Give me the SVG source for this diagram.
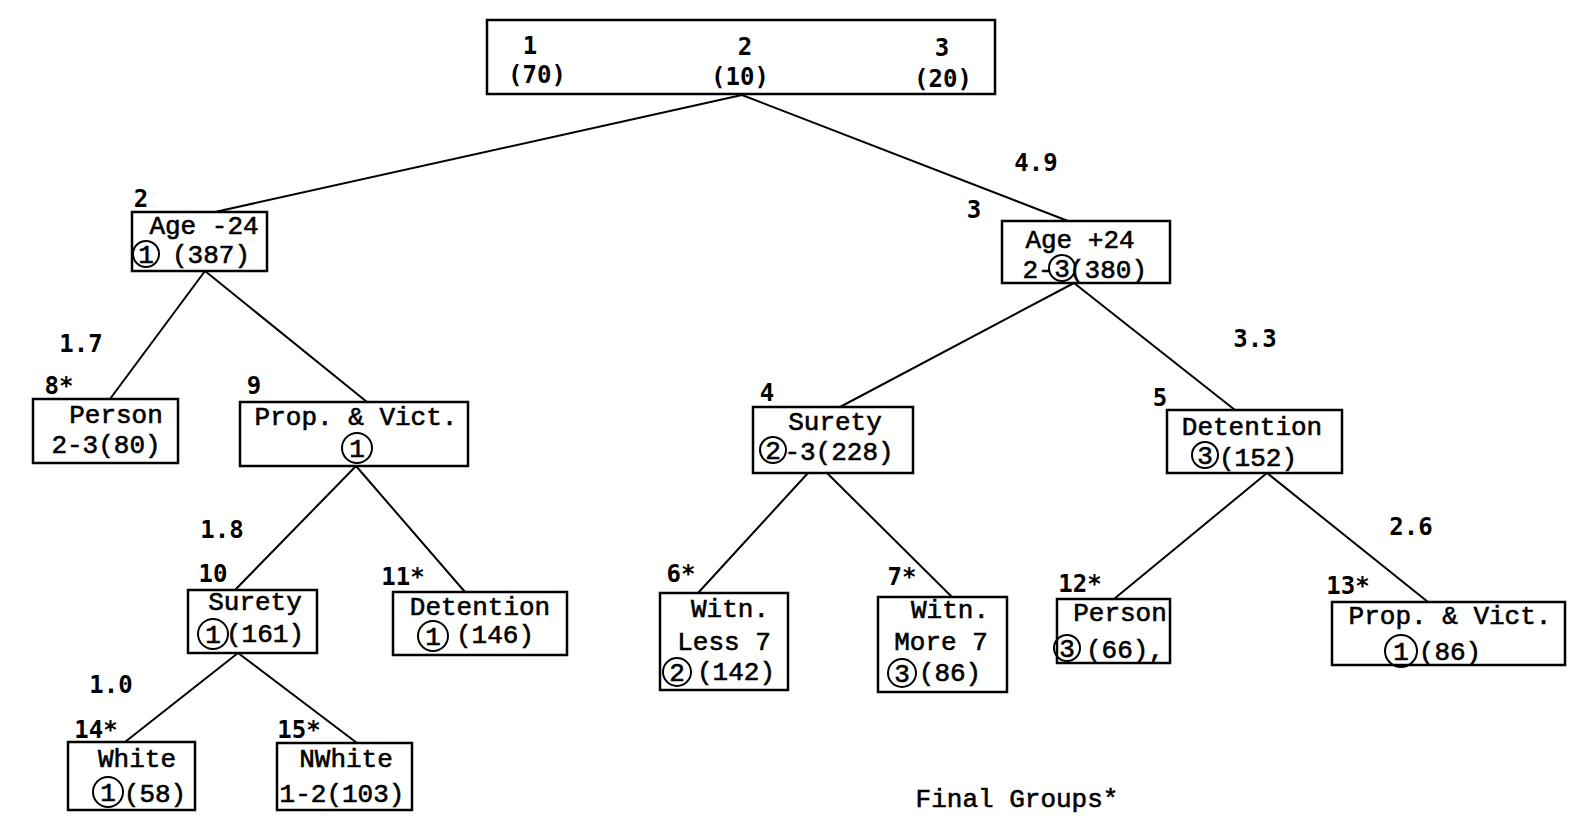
<svg xmlns="http://www.w3.org/2000/svg" width="1578" height="823" viewBox="0 0 1578 823">
<style>
.bg{fill:#ffffff}
.box{fill:none;stroke:#000;stroke-width:2.5}
.edge{stroke:#000;stroke-width:2;fill:none}
.t{font-family:"Liberation Mono","DejaVu Sans Mono",monospace;font-size:26px;font-weight:normal;fill:#000;stroke:#000;stroke-width:0.6;text-anchor:middle}
.n{font-family:"DejaVu Sans Mono","Liberation Mono",monospace;font-size:24px;font-weight:bold;fill:#000;text-anchor:middle}
.c{fill:none;stroke:#000;stroke-width:2}
</style>
<rect class="bg" x="0" y="0" width="1578" height="823"/>
<g id="connectors">
<line class="edge" x1="742" y1="95" x2="215" y2="212"/>
<line class="edge" x1="742" y1="95" x2="1068" y2="221"/>
<line class="edge" x1="205" y1="271" x2="110" y2="399"/>
<line class="edge" x1="205" y1="271" x2="367" y2="402"/>
<line class="edge" x1="1074" y1="283" x2="840" y2="407"/>
<line class="edge" x1="1074" y1="283" x2="1235" y2="410"/>
<line class="edge" x1="356" y1="466" x2="235" y2="590"/>
<line class="edge" x1="356" y1="466" x2="465" y2="592"/>
<line class="edge" x1="808" y1="473" x2="698" y2="593"/>
<line class="edge" x1="827" y1="473" x2="952" y2="597"/>
<line class="edge" x1="1267" y1="473" x2="1114" y2="599"/>
<line class="edge" x1="1267" y1="473" x2="1428" y2="602"/>
<line class="edge" x1="238" y1="653" x2="125" y2="742"/>
<line class="edge" x1="238" y1="653" x2="357" y2="743"/>
</g>
<g id="edge-labels">
<text class="n" x="1036" y="171">4.9</text>
<text class="n" x="81" y="352">1.7</text>
<text class="n" x="1255" y="347">3.3</text>
<text class="n" x="222" y="538">1.8</text>
<text class="n" x="1411" y="535">2.6</text>
<text class="n" x="111" y="693">1.0</text>
</g>
<g id="node-root">
<rect class="box" x="487" y="20" width="508" height="74"/>
<text class="n" x="530" y="54">1</text>
<text class="n" x="537" y="83">(70)</text>
<text class="n" x="745" y="55">2</text>
<text class="n" x="740" y="85">(10)</text>
<text class="n" x="942" y="56">3</text>
<text class="n" x="943" y="87">(20)</text>
</g>
<g id="node-2">
<text class="n" x="141" y="207">2</text>
<rect class="box" x="132" y="212" width="135" height="59"/>
<text class="t" x="204" y="234">Age -24</text>
<circle class="c" cx="146" cy="254" r="13"/>
<text class="t" x="146" y="263">1</text>
<text class="t" x="211" y="263">(387)</text>
</g>
<g id="node-3">
<text class="n" x="974" y="218">3</text>
<rect class="box" x="1002" y="221" width="168" height="62"/>
<text class="t" x="1080" y="248">Age +24</text>
<text class="t" x="1038" y="278">2-</text>
<circle class="c" cx="1062" cy="268" r="13"/>
<text class="t" x="1062" y="277">3</text>
<text class="t" x="1108" y="278">(380)</text>
</g>
<g id="node-8">
<text class="n" x="59" y="394">8*</text>
<rect class="box" x="33" y="399" width="145" height="64"/>
<text class="t" x="116" y="423">Person</text>
<text class="t" x="106" y="453">2-3(80)</text>
</g>
<g id="node-9">
<text class="n" x="254" y="394">9</text>
<rect class="box" x="240" y="402" width="228" height="64"/>
<text class="t" x="356" y="425">Prop. &amp; Vict.</text>
<circle class="c" cx="357" cy="448" r="15"/>
<text class="t" x="357" y="457">1</text>
</g>
<g id="node-4">
<text class="n" x="767" y="401">4</text>
<rect class="box" x="753" y="407" width="160" height="66"/>
<text class="t" x="835" y="430">Surety</text>
<circle class="c" cx="773" cy="450" r="13"/>
<text class="t" x="773" y="459">2</text>
<text class="t" x="839" y="460">-3(228)</text>
</g>
<g id="node-5">
<text class="n" x="1160" y="406">5</text>
<rect class="box" x="1167" y="410" width="175" height="63"/>
<text class="t" x="1252" y="435">Detention</text>
<circle class="c" cx="1205" cy="455" r="13"/>
<text class="t" x="1205" y="464">3</text>
<text class="t" x="1258" y="466">(152)</text>
</g>
<g id="node-10">
<text class="n" x="213" y="582">10</text>
<rect class="box" x="188" y="590" width="129" height="63"/>
<text class="t" x="255" y="610">Surety</text>
<circle class="c" cx="213" cy="634" r="15"/>
<text class="t" x="213" y="643">1</text>
<text class="t" x="265" y="642">(161)</text>
</g>
<g id="node-11">
<text class="n" x="403" y="585">11*</text>
<rect class="box" x="393" y="592" width="174" height="63"/>
<text class="t" x="480" y="615">Detention</text>
<circle class="c" cx="433" cy="636" r="15"/>
<text class="t" x="433" y="645">1</text>
<text class="t" x="495" y="643">(146)</text>
</g>
<g id="node-6">
<text class="n" x="681" y="582">6*</text>
<rect class="box" x="660" y="593" width="128" height="97"/>
<text class="t" x="730" y="617">Witn.</text>
<text class="t" x="724" y="650">Less 7</text>
<circle class="c" cx="677" cy="672" r="14"/>
<text class="t" x="677" y="681">2</text>
<text class="t" x="736" y="680">(142)</text>
</g>
<g id="node-7">
<text class="n" x="902" y="585">7*</text>
<rect class="box" x="878" y="597" width="129" height="95"/>
<text class="t" x="950" y="618">Witn.</text>
<text class="t" x="941" y="650">More 7</text>
<circle class="c" cx="902" cy="673" r="14"/>
<text class="t" x="902" y="682">3</text>
<text class="t" x="950" y="681">(86)</text>
</g>
<g id="node-12">
<text class="n" x="1080" y="592">12*</text>
<rect class="box" x="1057" y="599" width="113" height="64"/>
<text class="t" x="1120" y="621">Person</text>
<circle class="c" cx="1067" cy="648" r="13"/>
<text class="t" x="1067" y="657">3</text>
<text class="t" x="1125" y="658">(66),</text>
</g>
<g id="node-13">
<text class="n" x="1348" y="594">13*</text>
<rect class="box" x="1332" y="602" width="233" height="63"/>
<text class="t" x="1450" y="624">Prop. &amp; Vict.</text>
<circle class="c" cx="1401" cy="651" r="16"/>
<text class="t" x="1401" y="660">1</text>
<text class="t" x="1450" y="660">(86)</text>
</g>
<g id="node-14">
<text class="n" x="96" y="738">14*</text>
<rect class="box" x="68" y="742" width="127" height="68"/>
<text class="t" x="137" y="767">White</text>
<circle class="c" cx="108" cy="792" r="15"/>
<text class="t" x="108" y="801">1</text>
<text class="t" x="155" y="802">(58)</text>
</g>
<g id="node-15">
<text class="n" x="299" y="738">15*</text>
<rect class="box" x="277" y="743" width="135" height="67"/>
<text class="t" x="346" y="767">NWhite</text>
<text class="t" x="342" y="802">1-2(103)</text>
</g>
<g id="legend">
<text class="t" x="1017" y="807">Final Groups*</text>
</g>
</svg>
